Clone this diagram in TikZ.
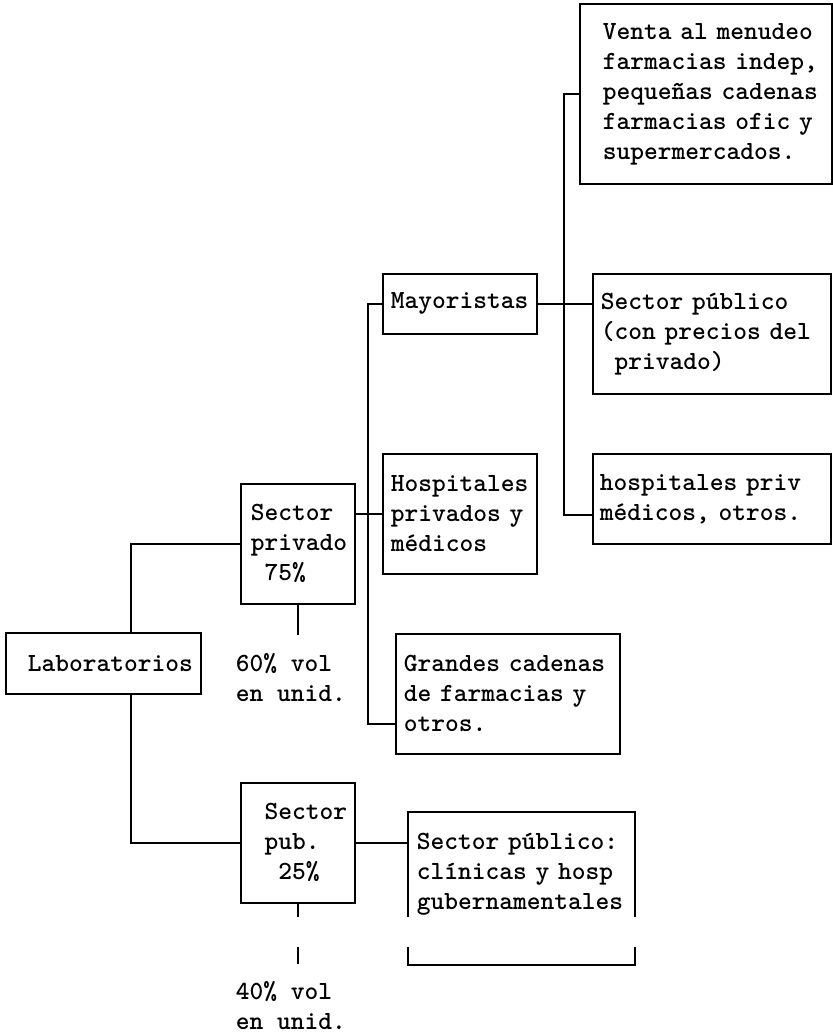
\documentclass[tikz,border=0pt]{standalone}
\usepackage{tikz}
\usetikzlibrary{calc}
\newcommand{\orgbox}[7]{%
  \node[caja,text width=#4pt,minimum height=#5pt] (#1) at (#2,#3)
    {\leftskip=#6pt\relax #7\par};
}
\newcommand{\tyspace}[1]{\hphantom{#1}}

\begin{document}
\begin{tikzpicture}[x=1pt,y=-1pt,line width=.9pt,
    font=\fontsize{13.1}{15}\selectfont\ttfamily\bfseries,
    caja/.style={draw,anchor=north west,inner xsep=0pt,inner ysep=0pt,align=left},
    nota/.style={anchor=west,inner sep=0pt,align=left}]
  \useasboundingbox (0,0) rectangle (416,518);
  % boxes
  \orgbox{lab}{2.5}{316}{97.5}{30.5}{11}{Laboratorios}
  \orgbox{priv}{120}{241.5}{57}{60}{5}{Sector\\privado\\\tyspace{0}75\%}
  \orgbox{pub}{120}{391}{57}{60}{5}{\tyspace{0}Sector\\\tyspace{0}pub.\\\tyspace{00}25\%}
  \orgbox{may}{191}{136.5}{77}{30}{4}{Mayoristas}
  \orgbox{hosp}{191}{226.5}{77}{60}{4}{Hospitales\\privados y\\médicos}
  \orgbox{gran}{197.5}{316.5}{112}{60}{4}{Grandes cadenas\\de farmacias y\\otros.}
  \orgbox{venta}{289.5}{1.5}{126}{90}{11.5}{Venta al menudeo\\farmacias indep,\\pequeñas cadenas\\farmacias ofic y\\supermercados.}
  \orgbox{spp}{296}{136.5}{119}{60}{4}{Sector público\\(con precios del\\\tyspace{0}privado)}
  \orgbox{hpriv}{296}{226.5}{119}{45}{3.5}{hospitales priv\\médicos, otros.}
  \node[caja,draw=none,text width=112.5pt,minimum height=61pt] (spub) at (204,406)
    {\leftskip=4pt\relax Sector público:\\clínicas y hosp\\gubernamentales\par};
  % notes
  \node[nota] (vol60) at (117.5,339) {60\% vol\\en unid.};
  \node[nota] (vol40) at (117.5,503) {40\% vol\\en unid.};
  % open frame of the public box
  \draw ($(spub.south west)+(0,-9.5)$) -- (spub.north west) -- (spub.north east)
    -- ($(spub.south east)+(0,-9.5)$);
  \draw ($(spub.south west)+(0,5.5)$) -- ($(spub.south west)+(0,14.5)$)
    -- ($(spub.south east)+(0,14.5)$) -- ($(spub.south east)+(0,5.5)$);
  % connectors
  \draw ($(lab.north west)!.641!(lab.north east)$) |- (priv.west);
  \draw ($(lab.south west)!.641!(lab.south east)$) |- (pub.west);
  \draw (priv.east |- hosp.west) -- (hosp.west);
  \draw (may.west) -- ++(-7,0) |- ($(gran.west)+(0,15)$);
  \draw (may.east) -- (may.east -| spp.west);
  \draw (venta.west) -- ++(-7.5,0) |- ($(hpriv.west)+(0,8)$);
  \draw (pub.east) -- (pub.east -| spub.west);
  % ticks
  \draw (priv.south) -- ++(0,15);
  \draw (pub.south) -- ++(0,6.5);
  \draw ($(pub.south)+(0,21.5)$) -- ++(0,8.5);
\end{tikzpicture}
\end{document}
